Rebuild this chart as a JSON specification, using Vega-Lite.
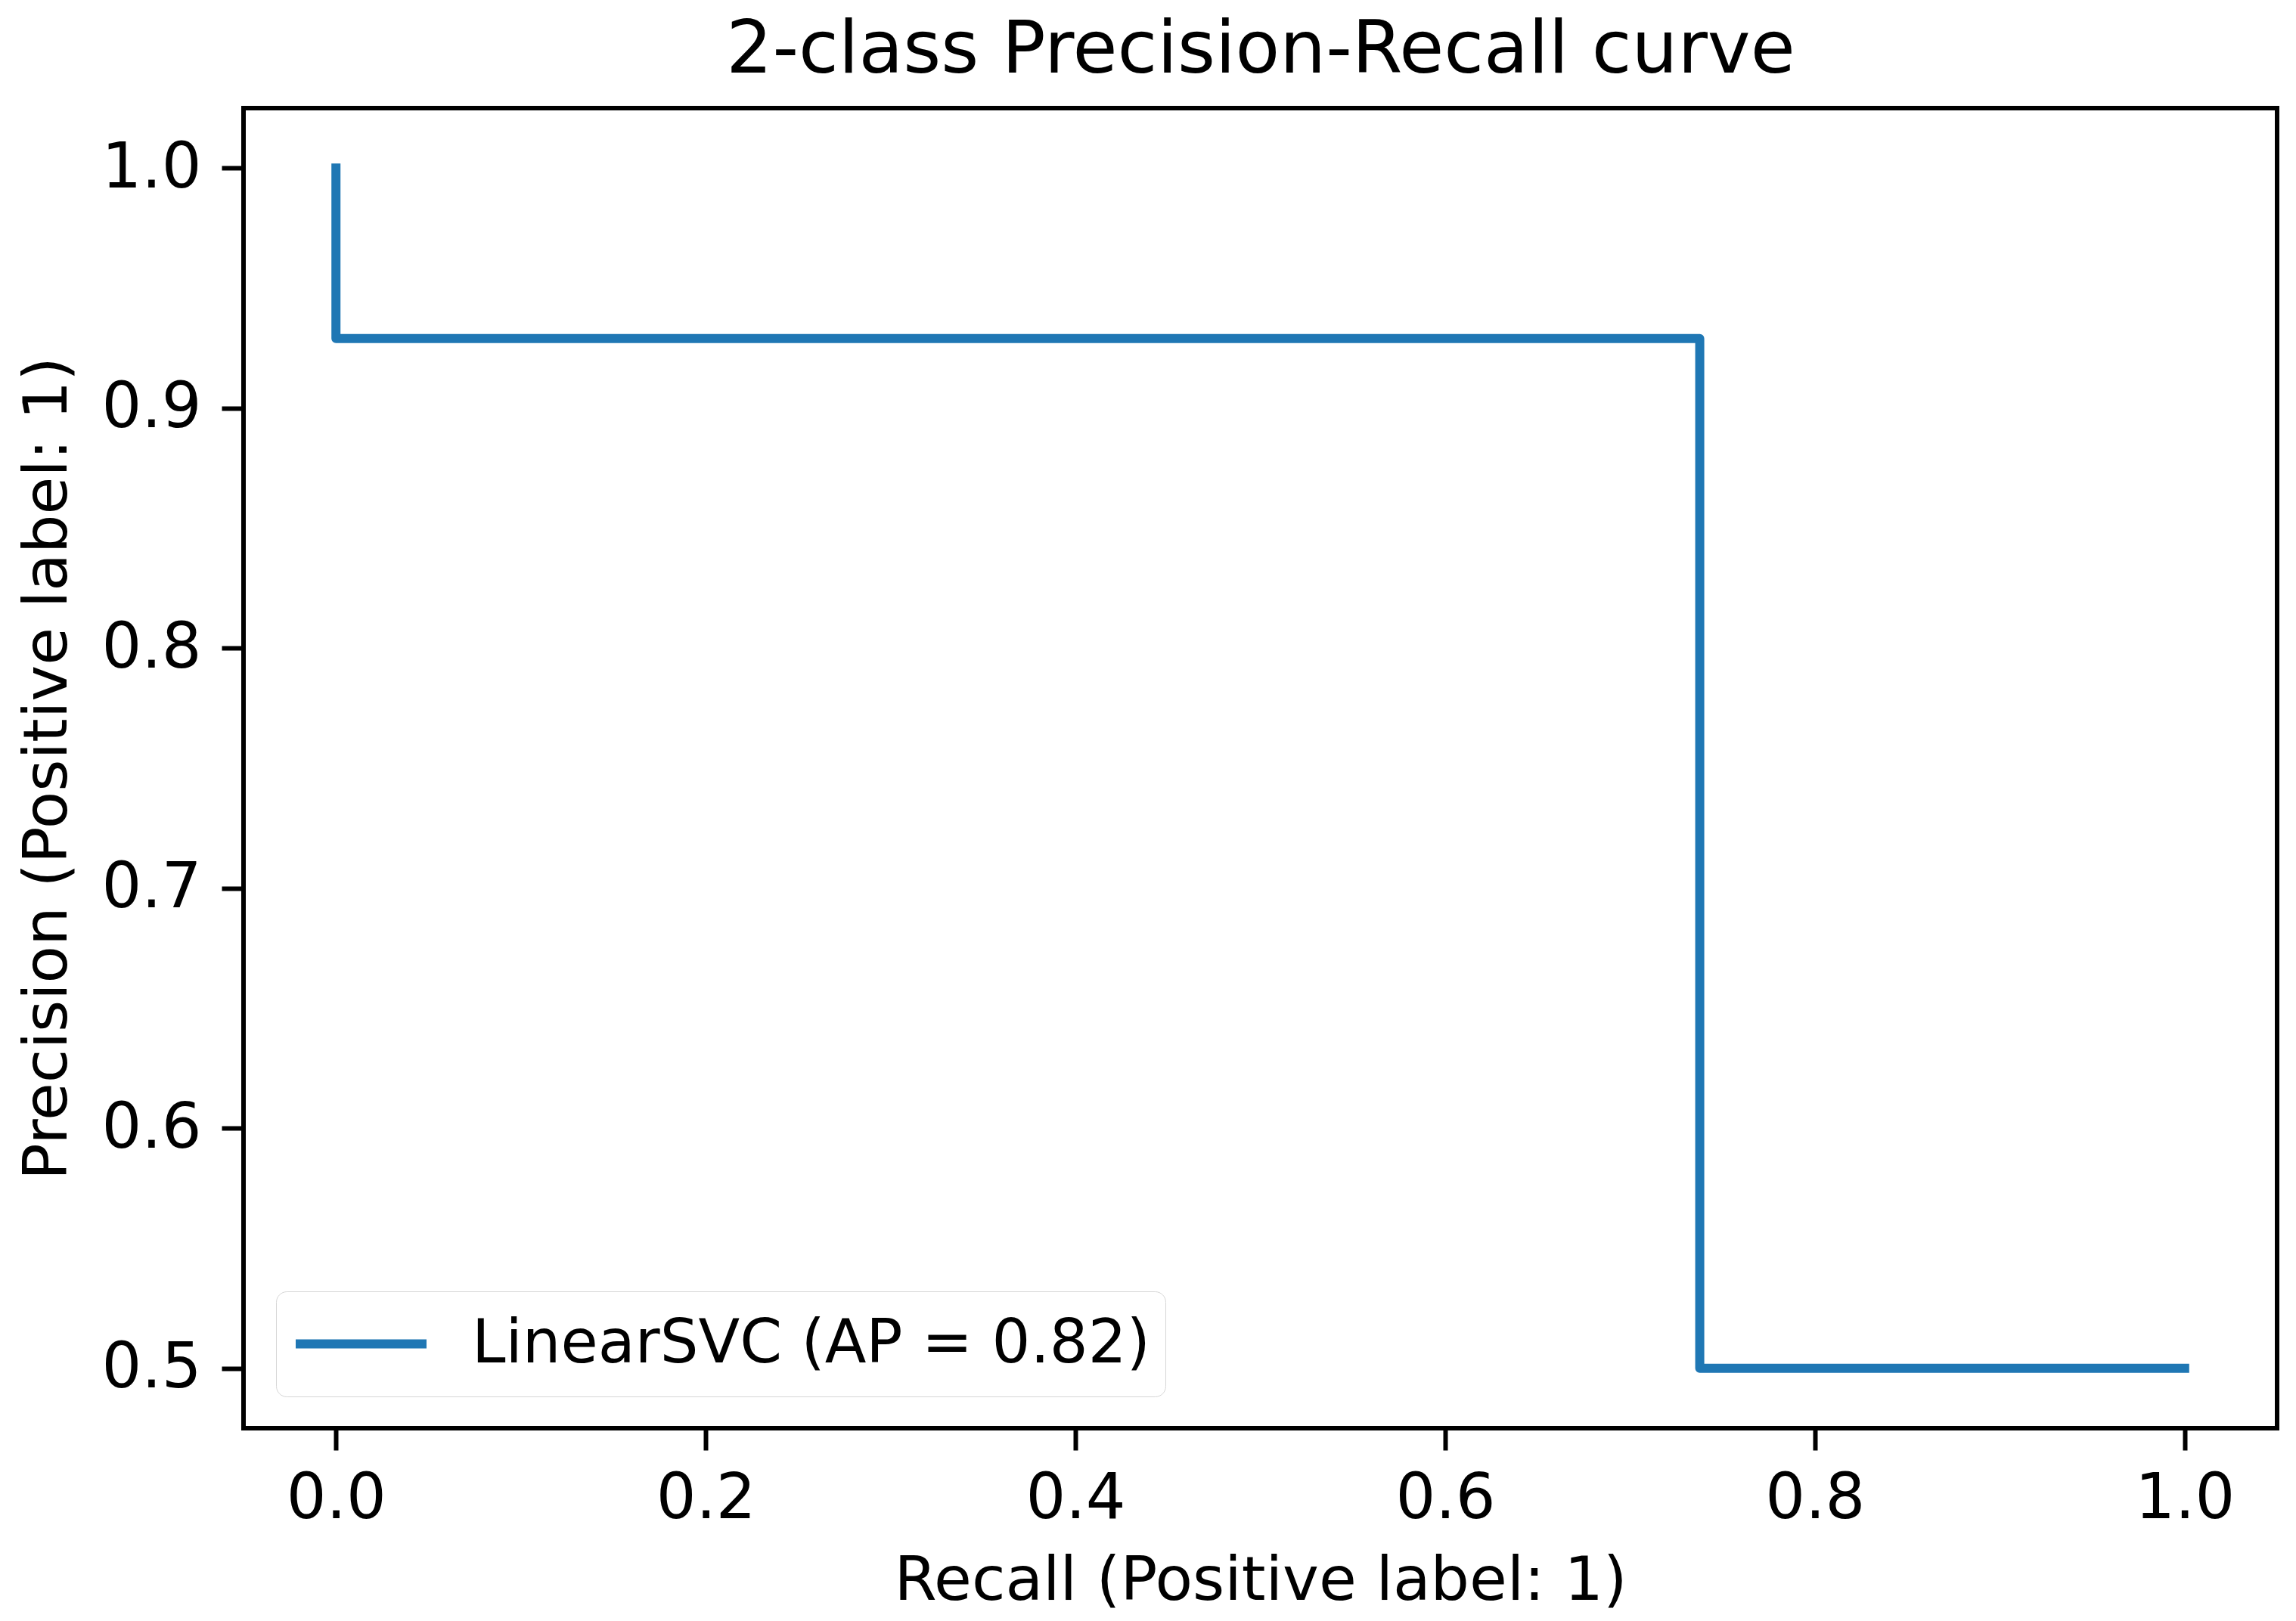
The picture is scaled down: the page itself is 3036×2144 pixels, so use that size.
{
  "$schema": "https://vega.github.io/schema/vega-lite/v6.json",
  "width": 2689,
  "height": 1746,
  "autosize": {"type": "none"},
  "padding": {"left": 322, "top": 143, "right": 25, "bottom": 255},
  "background": "white",
  "data": {
    "values": [
      {"order": 1, "recall": 0.0, "precision": 1.0, "series": "LinearSVC (AP = 0.82)"},
      {"order": 2, "recall": 0.0, "precision": 0.929, "series": "LinearSVC (AP = 0.82)"},
      {"order": 3, "recall": 0.7377, "precision": 0.929, "series": "LinearSVC (AP = 0.82)"},
      {"order": 4, "recall": 0.7377, "precision": 0.5, "series": "LinearSVC (AP = 0.82)"},
      {"order": 5, "recall": 1.0, "precision": 0.5, "series": "LinearSVC (AP = 0.82)"}
    ]
  },
  "layer": [
    {
      "mark": {"type": "line", "strokeWidth": 12, "strokeJoin": "round", "strokeCap": "square", "clip": false},
      "encoding": {
        "x": {
          "field": "recall", "type": "quantitative",
          "scale": {"domain": [-0.05, 1.05], "nice": false, "zero": false},
          "axis": {"title": "Recall (Positive label: 1)", "values": [0, 0.2, 0.4, 0.6, 0.8, 1.0], "format": ".1f", "labelPadding": 23, "titlePadding": 27}
        },
        "y": {
          "field": "precision", "type": "quantitative",
          "scale": {"domain": [0.475, 1.025], "nice": false, "zero": false},
          "axis": {"title": "Precision (Positive label: 1)", "values": [0.5, 0.6, 0.7, 0.8, 0.9, 1.0], "format": ".1f", "labelPadding": 27, "titlePadding": 47, "titleBaseline": "alphabetic"}
        },
        "order": {"field": "order", "type": "quantitative"},
        "color": {
          "field": "series", "type": "nominal",
          "scale": {"range": ["#1f77b4"]},
          "legend": {
            "title": null,
            "orient": "none",
            "legendX": 43,
            "legendY": 1565,
            "symbolType": "M-1,0L1,0",
            "symbolSize": 29929,
            "symbolStrokeWidth": 12,
            "symbolStrokeColor": "#1f77b4",
            "clipHeight": 99,
            "labelFont": "DejaVu Sans",
            "labelFontSize": 80,
            "labelColor": "black",
            "labelOffset": 54,
            "labelLimit": 2000,
            "padding": 20,
            "strokeColor": "#d6d6d6",
            "fillColor": "white",
            "cornerRadius": 14,
            "encoding": {"legend": {"update": {"strokeWidth": {"value": 8}}}}
          }
        }
      }
    },
    {
      "mark": {"type": "line", "opacity": 0, "clip": false},
      "encoding": {
        "x": {
          "field": "recall", "type": "quantitative",
          "axis": {
            "orient": "top",
            "title": "2-class Precision-Recall curve",
            "titleFontSize": 96,
            "titleBaseline": "alphabetic",
            "titlePadding": 48,
            "labels": false,
            "ticks": false,
            "tickSize": 0,
            "minExtent": 0,
            "domain": false
          }
        },
        "y": {"field": "precision", "type": "quantitative"},
        "order": {"field": "order", "type": "quantitative"}
      }
    }
  ],
  "resolve": {"axis": {"x": "independent"}},
  "config": {
    "view": {"stroke": "black", "strokeWidth": 6},
    "axis": {
      "domain": false,
      "grid": false,
      "ticks": true,
      "tickSize": 29,
      "tickWidth": 6,
      "tickColor": "black",
      "labelFont": "DejaVu Sans",
      "labelFontSize": 83,
      "labelColor": "black",
      "titleFont": "DejaVu Sans",
      "titleFontSize": 81,
      "titleFontWeight": "normal",
      "titleColor": "black",
      "labelFlush": false,
      "labelOverlap": false
    }
  }
}
